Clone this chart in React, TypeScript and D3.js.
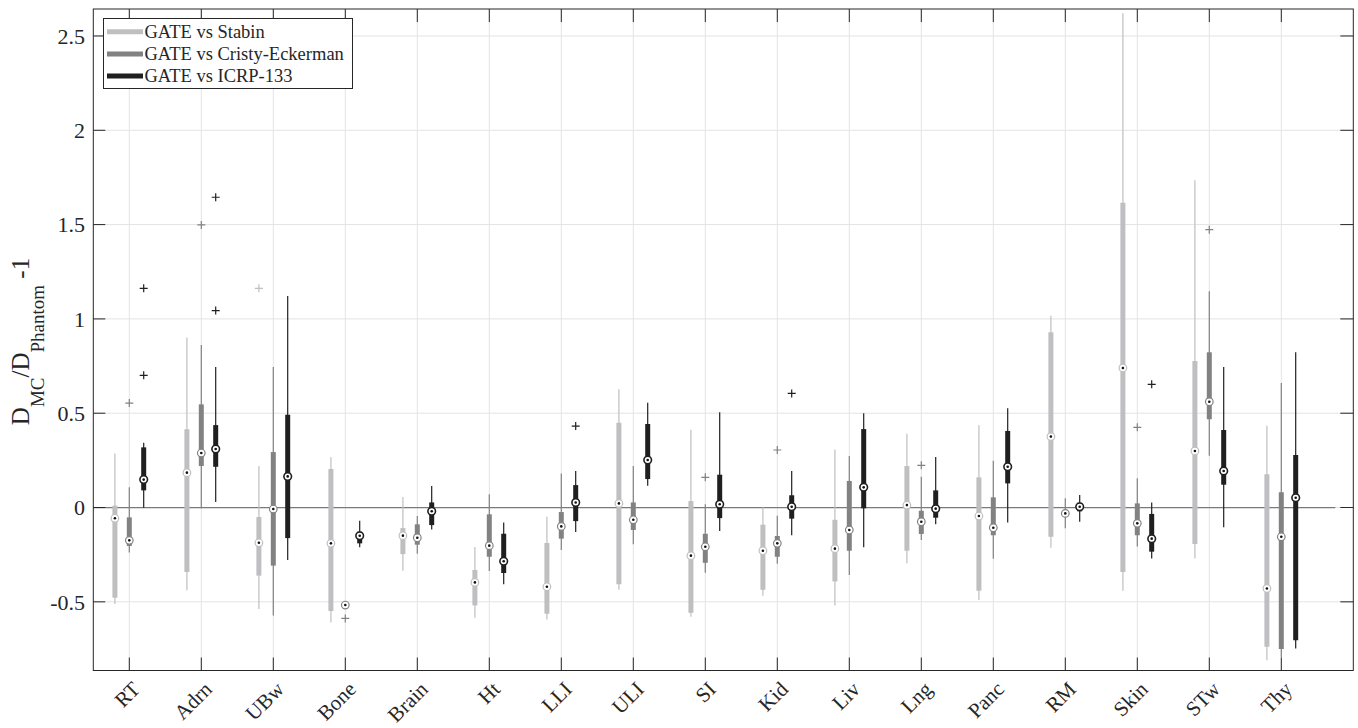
import React from "react";
import * as d3 from "d3";

const organs = ["RT", "Adrn", "UBw", "Bone", "Brain", "Ht", "LLI", "ULI", "SI", "Kid", "Liv", "Lng", "Panc", "RM", "Skin", "STw", "Thy"];
const seriesNames = ["GATE vs Stabin", "GATE vs Cristy-Eckerman", "GATE vs ICRP-133"];
const seriesColors = ["#bfbfc1", "#828282", "#1f1f1f"];

// [lower whisker, q1, median, q3, upper whisker]
const stabin = [
  [-0.512, -0.478, -0.057, 0.01, 0.287],
  [-0.439, -0.342, 0.185, 0.415, 0.902],
  [-0.538, -0.361, -0.187, -0.05, 0.22],
  [-0.609, -0.549, -0.19, 0.204, 0.266],
  [-0.335, -0.247, -0.149, -0.109, 0.056],
  [-0.584, -0.519, -0.397, -0.331, -0.209],
  [-0.593, -0.563, -0.42, -0.188, -0.049],
  [-0.436, -0.407, 0.022, 0.45, 0.627],
  [-0.579, -0.558, -0.255, 0.034, 0.413],
  [-0.468, -0.436, -0.229, -0.091, 0.001],
  [-0.519, -0.392, -0.218, -0.065, 0.308],
  [-0.296, -0.229, 0.013, 0.22, 0.391],
  [-0.49, -0.441, -0.045, 0.16, 0.436],
  [-0.213, -0.155, 0.376, 0.929, 1.017],
  [-0.441, -0.342, 0.74, 1.616, 2.62],
  [-0.27, -0.194, 0.3, 0.777, 1.735],
  [-0.809, -0.738, -0.429, 0.176, 0.434],
];
const cristy = [
  [-0.238, -0.204, -0.174, -0.052, 0.107],
  [-0.004, 0.22, 0.289, 0.547, 0.862],
  [-0.572, -0.308, -0.008, 0.294, 0.745],
  [-0.53, -0.525, -0.517, -0.508, -0.5],
  [-0.245, -0.197, -0.16, -0.089, -0.045],
  [-0.337, -0.261, -0.202, -0.036, 0.07],
  [-0.225, -0.165, -0.1, -0.024, 0.181],
  [-0.195, -0.119, -0.065, 0.027, 0.22],
  [-0.346, -0.293, -0.208, -0.139, 0.017],
  [-0.298, -0.261, -0.19, -0.151, -0.043],
  [-0.358, -0.229, -0.119, 0.141, 0.273],
  [-0.172, -0.14, -0.075, -0.017, 0.163],
  [-0.271, -0.147, -0.107, 0.054, 0.248],
  [-0.11, -0.045, -0.031, -0.02, 0.049],
  [-0.206, -0.147, -0.084, 0.022, 0.155],
  [0.275, 0.468, 0.561, 0.823, 1.146],
  [-0.794, -0.75, -0.155, 0.081, 0.66],
];
const icrp = [
  [-0.001, 0.091, 0.148, 0.319, 0.344],
  [0.029, 0.216, 0.31, 0.437, 0.745],
  [-0.278, -0.162, 0.165, 0.492, 1.121],
  [-0.211, -0.19, -0.15, -0.128, -0.07],
  [-0.116, -0.093, -0.02, 0.027, 0.114],
  [-0.407, -0.347, -0.285, -0.139, -0.08],
  [-0.13, -0.072, 0.027, 0.119, 0.194],
  [0.116, 0.151, 0.252, 0.443, 0.556],
  [-0.125, -0.056, 0.017, 0.174, 0.505],
  [-0.147, -0.059, 0.004, 0.065, 0.194],
  [-0.211, -0.004, 0.107, 0.416, 0.5],
  [-0.089, -0.054, -0.006, 0.091, 0.268],
  [-0.08, 0.128, 0.216, 0.406, 0.526],
  [-0.075, -0.02, 0.004, 0.025, 0.066],
  [-0.27, -0.234, -0.165, -0.034, 0.027],
  [-0.105, 0.121, 0.194, 0.411, 0.745],
  [-0.747, -0.704, 0.052, 0.278, 0.823],
];

// outliers: [organ index, value]
const stabinOutliers = [[2, 1.162]];
const cristyOutliers = [[0, 0.554], [1, 1.498], [3, -0.588], [8, 0.16], [9, 0.305], [11, 0.224], [14, 0.425], [15, 1.473]];
const icrpOutliers = [[0, 0.701], [0, 1.162], [1, 1.044], [1, 1.645], [6, 0.432], [9, 0.605], [14, 0.653]];

const yTicks = [-0.5, 0, 0.5, 1, 1.5, 2, 2.5];
const yTickLabels = ["-0.5", "0", "0.5", "1", "1.5", "2", "2.5"];

const W = 1358;
const H = 728;
const font = "Liberation Serif, Times New Roman, serif";
const axisColor = "#262626";

export default function App() {
  const x = d3.scaleLinear().domain([0.5, 18]).range([93.3, 1353.3]);
  const y = d3.scaleLinear().domain([-0.864, 2.643]).range([670.5, 9]);
  const [x0, x1] = x.range();
  const [yb, yt] = y.range();

  const series = [
    { stats: stabin, outliers: stabinOutliers },
    { stats: cristy, outliers: cristyOutliers },
    { stats: icrp, outliers: icrpOutliers },
  ];

  const txt = { fontFamily: font, fill: axisColor };

  return (
    <svg width={W} height={H} style={{ position: "absolute", left: 0, top: 0, background: "#fff" }}>
      <rect x={0} y={0} width={W} height={H} fill="#fff" />
      {/* grid */}
      <g stroke="#e3e3e3" strokeWidth={1}>
        {organs.map((_, i) => (
          <line key={"gx" + i} x1={x(i + 1)} x2={x(i + 1)} y1={yt} y2={yb} />
        ))}
        {yTicks.map((t) => (
          <line key={"gy" + t} x1={x0} x2={x1} y1={y(t)} y2={y(t)} />
        ))}
      </g>
      {/* zero line */}
      <line x1={x0} x2={x(17.75)} y1={y(0)} y2={y(0)} stroke="#7a7a7a" strokeWidth={1.3} />

      {/* boxes */}
      {series.map((s, si) => {
        const off = (si - 1) * 0.2;
        const c = seriesColors[si];
        return (
          <g key={"s" + si}>
            {s.stats.map((d, i) => {
              const cx = x(i + 1 + off);
              return (
                <g key={i}>
                  <line x1={cx} x2={cx} y1={y(d[0])} y2={y(d[4])} stroke={c} strokeWidth={1.2} />
                  <line x1={cx} x2={cx} y1={y(d[1])} y2={y(d[3])} stroke={c} strokeWidth={5} />
                  <circle cx={cx} cy={y(d[2])} r={3.8} fill="#fff" stroke={c} strokeWidth={si === 2 ? 1.6 : 1.2} />
                  <circle cx={cx} cy={y(d[2])} r={1.3} fill="#111" />
                </g>
              );
            })}
            {s.outliers.map(([i, v], k) => {
              const cx = x(i + 1 + off);
              const cy = y(v);
              return (
                <path key={"o" + k} d={`M${cx - 4},${cy}H${cx + 4}M${cx},${cy - 4}V${cy + 4}`} stroke={c} strokeWidth={1.2} fill="none" />
              );
            })}
          </g>
        );
      })}

      {/* axes box and ticks */}
      <rect x={x0} y={yt} width={x1 - x0} height={yb - yt} fill="none" stroke={axisColor} strokeWidth={1} />
      <g stroke={axisColor} strokeWidth={1}>
        {organs.map((_, i) => (
          <g key={"tx" + i}>
            <line x1={x(i + 1)} x2={x(i + 1)} y1={yb} y2={yb - 13} />
            <line x1={x(i + 1)} x2={x(i + 1)} y1={yt} y2={yt + 13} />
          </g>
        ))}
        {yTicks.map((t) => (
          <g key={"ty" + t}>
            <line x1={x0} x2={x0 + 12} y1={y(t)} y2={y(t)} />
            <line x1={x1} x2={x1 - 13} y1={y(t)} y2={y(t)} />
          </g>
        ))}
      </g>
      {yTicks.map((t, k) => (
        <text key={"yl" + t} x={85} y={y(t)} dy="0.35em" textAnchor="end" fontSize={22} style={txt}>
          {yTickLabels[k]}
        </text>
      ))}
      {organs.map((o, i) => (
        <text key={"xl" + o} textAnchor="end" fontSize={21} style={txt} transform={`translate(${x(i + 1) + 12},${690.5}) rotate(-45)`}>
          {o}
        </text>
      ))}

      {/* y label */}
      <text fontSize={25} style={txt} textAnchor="middle" transform={`translate(28.5,341.5) rotate(-90)`}>
        D<tspan fontSize={19} dy={15}>MC</tspan>
        <tspan dy={-15}>/D</tspan>
        <tspan fontSize={19} dy={15}>Phantom</tspan>
        <tspan dy={-15}> -1</tspan>
      </text>

      {/* legend */}
      <g>
        <rect x={103.5} y={18.5} width={249} height={70} fill="#fff" stroke={axisColor} strokeWidth={1} />
        {seriesNames.map((n, k) => {
          const cy = 31.7 + k * 22.2;
          return (
            <g key={n}>
              <line x1={107} x2={143} y1={cy} y2={cy} stroke={seriesColors[k]} strokeWidth={5} />
              <text x={144.5} y={cy + 6} fontSize={18.5} style={txt}>
                {n}
              </text>
            </g>
          );
        })}
      </g>
    </svg>
  );
}
